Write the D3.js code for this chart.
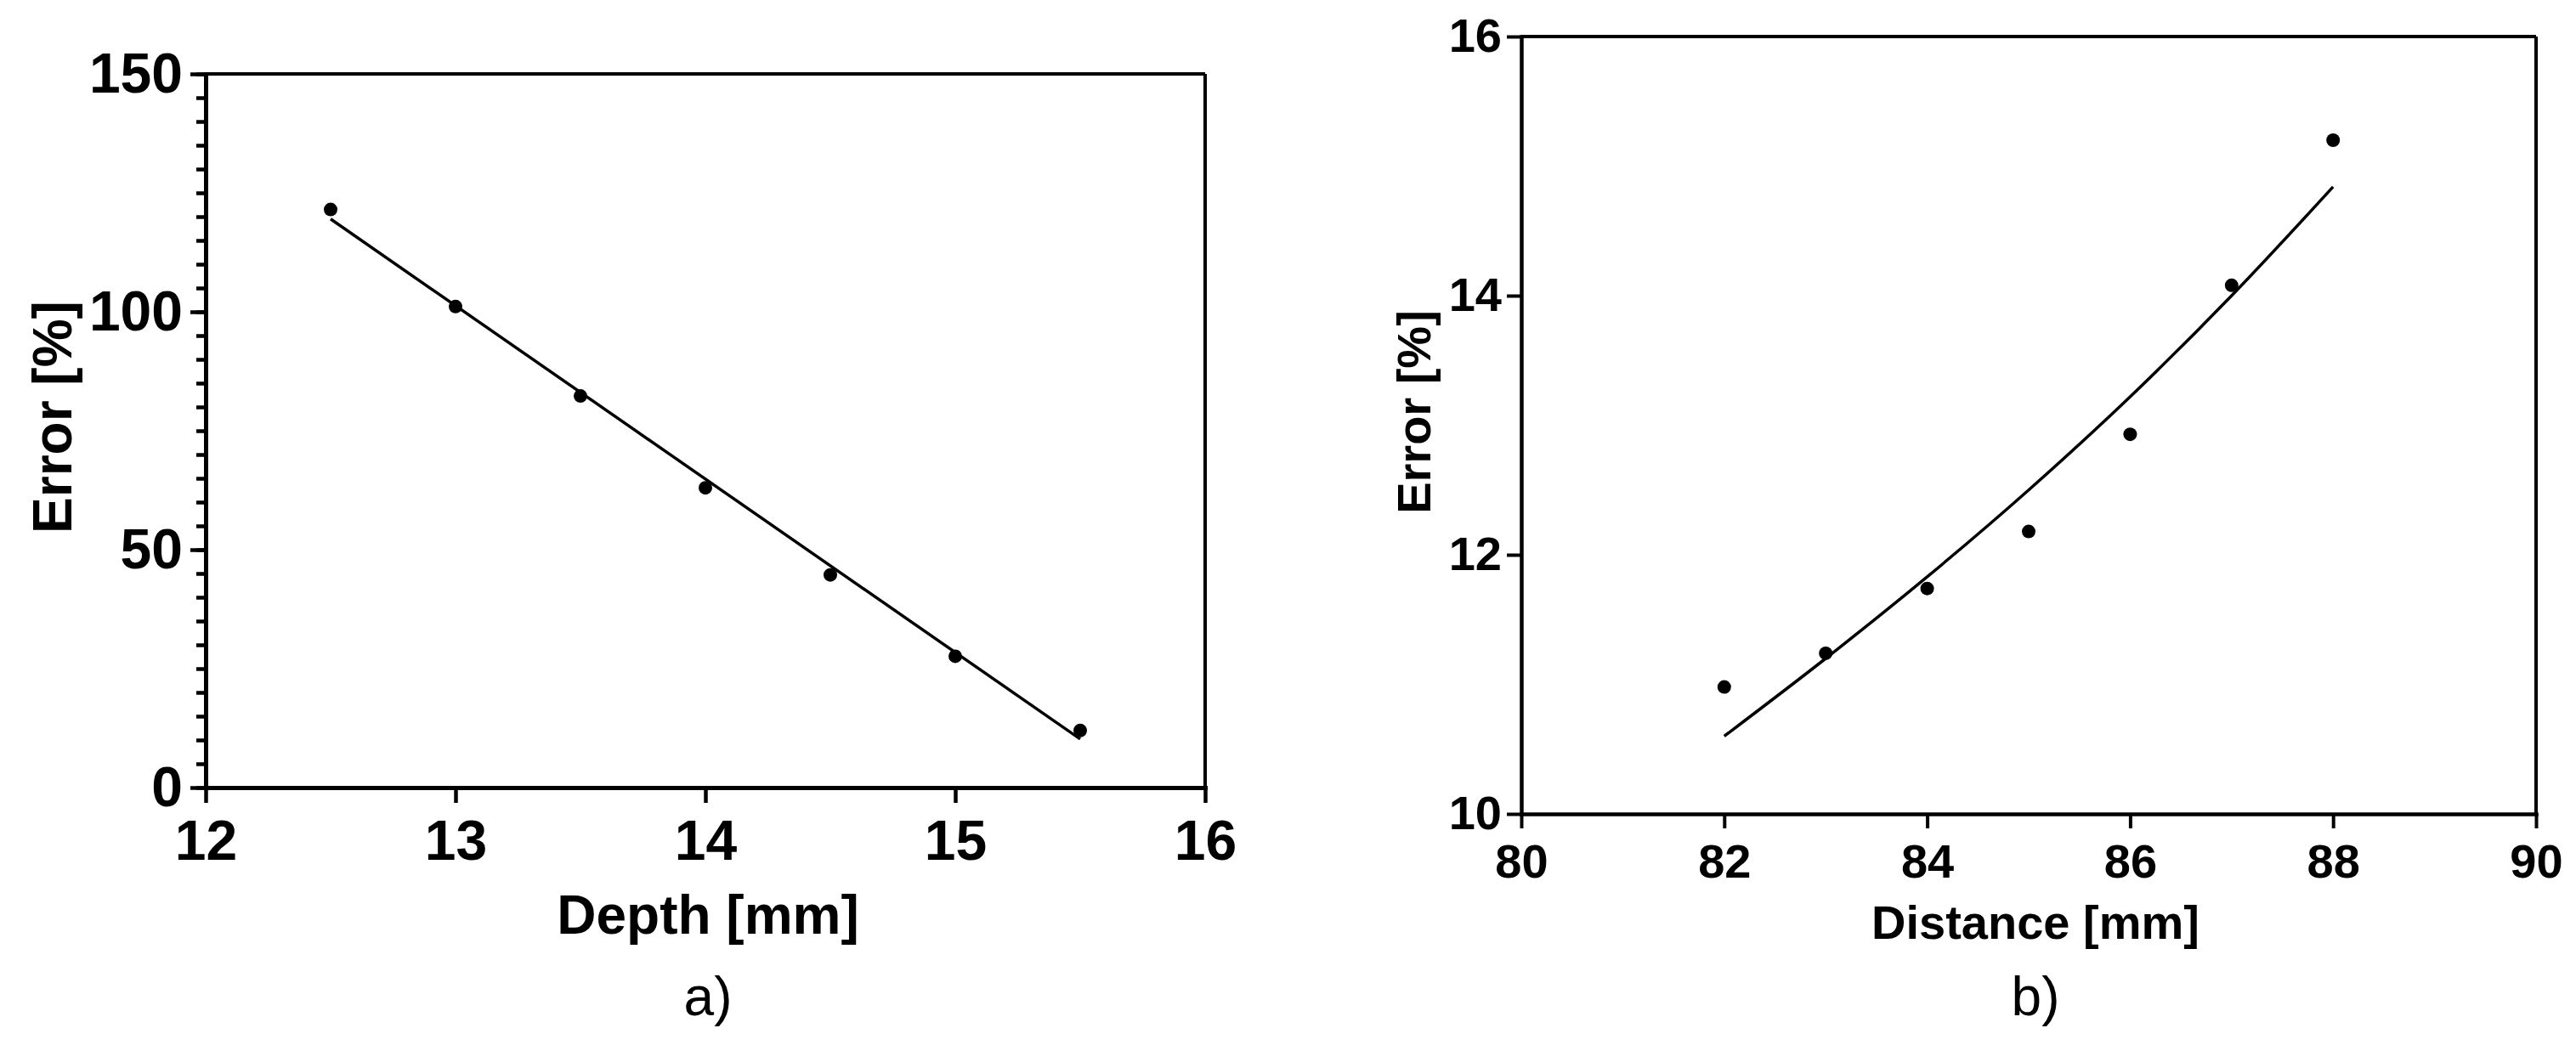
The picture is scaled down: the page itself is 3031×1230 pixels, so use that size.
<!DOCTYPE html>
<html>
<head>
<meta charset="utf-8">
<script src="https://cdn.jsdelivr.net/npm/d3@7"></script>
<style>
  body { margin: 0; background: #fff; }
  svg { display: block; font-family: "Liberation Sans", Arial, sans-serif; }
</style>
</head>
<body>
<div id="chart"></div>
<script>
// panel a) : error vs depth
const depthX = [12.5, 13, 13.5, 14, 14.5, 15, 15.5];
const depthError = [121.5, 101.1, 82.3, 63.0, 44.7, 27.6, 12.0];
const depthFitX = [12.5, 15.5];
const depthFitY = [119.5, 10.2];
const depthTicksX = [12, 13, 14, 15, 16];
const depthTicksY = [0, 50, 100, 150];
const depthMinorY = d3.range(0, 151, 5);

// panel b) : error vs distance
const distX = [82, 83, 84, 85, 86, 87, 88];
const distError = [10.98, 11.24, 11.74, 12.18, 12.93, 14.08, 15.20];
const distFitX = [82, 83, 84, 85, 86, 87, 88];
const distFitY = [10.60, 11.20, 11.83, 12.50, 13.22, 14.00, 14.84];
const distTicksX = [80, 82, 84, 86, 88, 90];
const distTicksY = [10, 12, 14, 16];

const W = 3031, H = 1230;

const svg = d3.select("#chart")
    .append("svg")
    .attr("width", W)
    .attr("height", H);

svg.append("rect").attr("width", W).attr("height", H).attr("fill", "#fff");

function drawPanel(p) {
    const x = d3.scaleLinear().domain(p.xDomain).range([p.left, p.right]);
    const y = d3.scaleLinear().domain(p.yDomain).range([p.bottom, p.top]);
    const g = svg.append("g");
    const fmt = d3.format("d");

    // minor ticks first
    if (p.minorY) {
        g.append("g")
            .attr("transform", `translate(${p.left},0)`)
            .call(d3.axisLeft(y).tickValues(p.minorY).tickSize(p.minorSize).tickSizeOuter(0).tickFormat(""))
            .call(a => a.select(".domain").remove())
            .selectAll("line").attr("stroke-width", p.tickW);
    }

    // box top + right
    g.append("line")
        .attr("x1", x(p.xDomain[0])).attr("x2", x(p.xDomain[1]))
        .attr("y1", y(p.yDomain[1])).attr("y2", y(p.yDomain[1]))
        .attr("stroke", "#000").attr("stroke-width", p.boxW);
    g.append("line")
        .attr("x1", x(p.xDomain[1])).attr("x2", x(p.xDomain[1]))
        .attr("y1", y(p.yDomain[0])).attr("y2", y(p.yDomain[1]))
        .attr("stroke", "#000").attr("stroke-width", p.boxW);

    // axes
    const ax = g.append("g")
        .attr("transform", `translate(0,${p.bottom})`)
        .call(d3.axisBottom(x).tickValues(p.ticksX).tickFormat(fmt)
            .tickSize(p.tickSize).tickSizeOuter(0).tickPadding(p.padX));
    const ay = g.append("g")
        .attr("transform", `translate(${p.left},0)`)
        .call(d3.axisLeft(y).tickValues(p.ticksY).tickFormat(fmt)
            .tickSize(p.tickSize).tickSizeOuter(0).tickPadding(p.padY));

    [ax, ay].forEach(a => {
        a.select(".domain").attr("stroke-width", p.axisW).attr("stroke-linecap", "square");
        a.selectAll(".tick line").attr("stroke-width", p.tickW);
        a.selectAll("text")
            .attr("fill", "#000")
            .style("font-size", p.tickFont + "px")
            .style("font-weight", "bold");
    });

    // fit line
    const fit = p.fitX.map((v, i) => [v, p.fitY[i]]);
    g.append("path")
        .datum(fit)
        .attr("fill", "none")
        .attr("stroke", "#000")
        .attr("stroke-width", 3.5)
        .attr("d", d3.line().x(d => x(d[0])).y(d => y(d[1])).curve(d3.curveMonotoneX));

    // points
    g.selectAll("circle.pt")
        .data(p.xs.map((v, i) => [v, p.ys[i]]))
        .enter()
        .append("circle")
        .attr("class", "pt")
        .attr("cx", d => x(d[0]))
        .attr("cy", d => y(d[1]))
        .attr("r", p.r)
        .attr("fill", "#000");

    // titles
    g.append("text")
        .attr("x", (p.left + p.right) / 2 + p.xTitleDx)
        .attr("y", p.xTitleY)
        .attr("text-anchor", "middle")
        .style("font-size", p.titleFont + "px")
        .style("font-weight", "bold")
        .text(p.xTitle);

    g.append("text")
        .attr("transform", `translate(${p.yTitleX},${p.yTitleCy}) rotate(-90)`)
        .attr("text-anchor", "middle")
        .style("font-size", p.titleFont + "px")
        .style("font-weight", "bold")
        .text("Error [%]");

    g.append("text")
        .attr("x", (p.left + p.right) / 2 + p.xTitleDx)
        .attr("y", 1195)
        .attr("text-anchor", "middle")
        .style("font-size", "64px")
        .text(p.tag);
}

drawPanel({
    xDomain: [12, 16], yDomain: [0, 150],
    left: 242, right: 1418, top: 87, bottom: 927,
    ticksX: depthTicksX, ticksY: depthTicksY, minorY: depthMinorY, minorSize: 11,
    tickSize: 18, padX: 20, padY: 9, tickFont: 66,
    axisW: 5, boxW: 4, tickW: 4.5,
    xs: depthX, ys: depthError, fitX: depthFitX, fitY: depthFitY, r: 8,
    xTitle: "Depth [mm]", xTitleY: 1099, xTitleDx: 3,
    yTitleX: 84, yTitleCy: 491, titleFont: 64,
    tag: "a)"
});

drawPanel({
    xDomain: [80, 90], yDomain: [10, 16],
    left: 1790, right: 2984, top: 43, bottom: 958,
    ticksX: distTicksX, ticksY: distTicksY, minorY: null,
    tickSize: 17, padX: 18, padY: 6, tickFont: 56,
    axisW: 4.5, boxW: 4, tickW: 4,
    xs: distX, ys: distError, fitX: distFitX, fitY: distFitY, r: 8,
    xTitle: "Distance [mm]", xTitleY: 1105, xTitleDx: 8,
    yTitleX: 1683, yTitleCy: 485, titleFont: 56,
    tag: "b)"
});
</script>
</body>
</html>
